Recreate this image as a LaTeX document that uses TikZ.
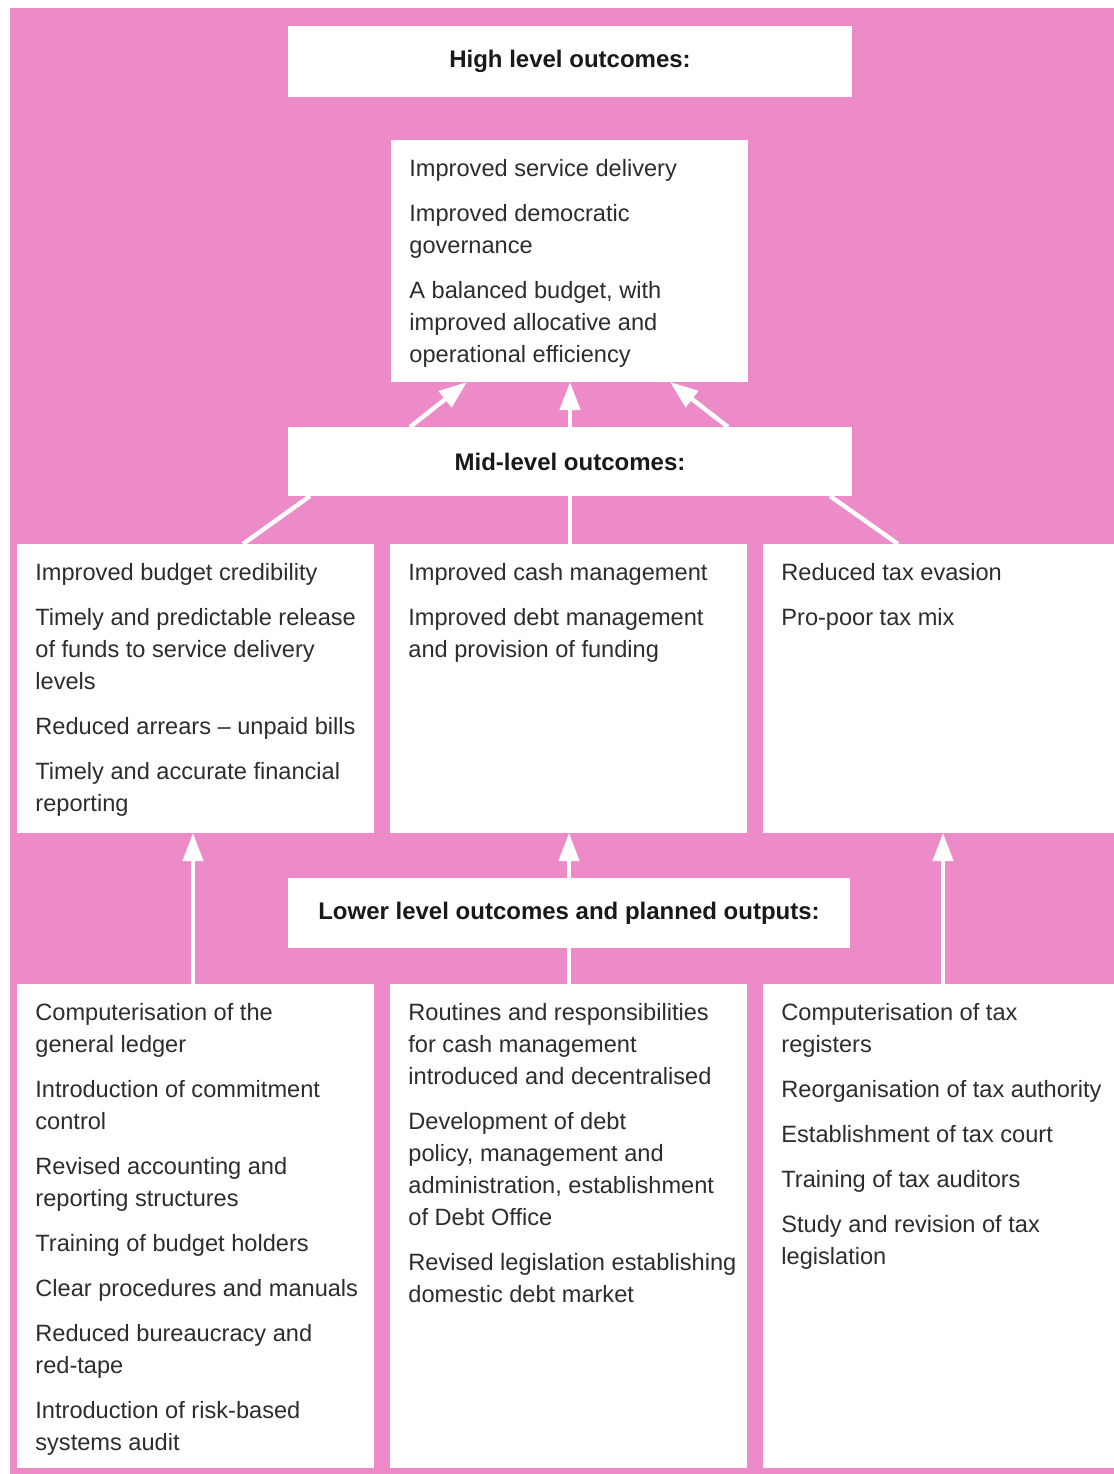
\documentclass[tikz,border=0pt]{standalone}
\usepackage{fontspec}
\setmainfont{Liberation Sans}
\usetikzlibrary{arrows.meta}

\definecolor{pinkbg}{RGB}{237,138,200}
\definecolor{inkgray}{RGB}{45,45,45}

\tikzset{
  header/.style={fill=white, inner sep=0pt, outer sep=0pt, font=\bfseries\fontsize{12}{15}\selectfont, text=black!90},
  panel/.style={fill=white, inner sep=0pt, outer sep=0pt, minimum width=178.5pt},
  item/.style={anchor=north west, inner sep=0pt, align=left, text=inkgray, font=\fontsize{11.8}{16}\selectfont},
  up/.style={draw=white, line width=2.2pt, -{Triangle[length=14pt,width=10pt]}},
  link/.style={draw=white, line width=2.2pt}
}

\begin{document}
\begin{tikzpicture}[x=0.5pt, y=-0.5pt]

% Page and background
\useasboundingbox (0,0) rectangle (1114,1474);
\fill[pinkbg] (10,8) rectangle (1114,1474);

% Headers
\node[header, minimum width=282pt, minimum height=35.5pt] (high) at (570,61.5) {High level outcomes:};
\node[header, minimum width=282pt, minimum height=34.5pt] (mid) at (570,461.5) {Mid-level outcomes:};
\node[header, minimum width=281pt, minimum height=35pt] (low) at (569,913) {Lower level outcomes and planned outputs:};

% High level box
\node[panel, minimum height=121pt] (top) at (569.5,261) {};
\node[item] (top-txt) at ([shift={(18,19)}]top.north west) {Improved service delivery\\[6.5pt]
  Improved democratic\\governance\\[6.5pt]
  A balanced budget, with\\improved allocative and\\operational efficiency};

% Mid level boxes
\node[panel, minimum height=144.5pt] (m1) at (195.5,688.5) {};
\node[panel, minimum height=144.5pt] (m2) at (568.5,688.5) {};
\node[panel, minimum height=144.5pt, minimum width=175.5pt] (m3) at (938.5,688.5) {};

\node[item] (m1-txt) at ([shift={(18,19)}]m1.north west) {Improved budget credibility\\[6.5pt]
  Timely and predictable release\\of funds to service delivery\\levels\\[6.5pt]
  Reduced arrears -- unpaid bills\\[6.5pt]
  Timely and accurate financial\\reporting};
\node[item] (m2-txt) at ([shift={(18,19)}]m2.north west) {Improved cash management\\[6.5pt]
  Improved debt management\\and provision of funding};
\node[item] (m3-txt) at ([shift={(18,19)}]m3.north west) {Reduced tax evasion\\[6.5pt]
  Pro-poor tax mix};

% Lower level boxes
\node[panel, minimum height=242pt] (l1) at (195.5,1226) {};
\node[panel, minimum height=242pt] (l2) at (568.5,1226) {};
\node[panel, minimum height=242pt, minimum width=175.5pt] (l3) at (938.5,1226) {};

\node[item] (l1-txt) at ([shift={(18,19)}]l1.north west) {Computerisation of the\\general ledger\\[6.5pt]
  Introduction of commitment\\control\\[6.5pt]
  Revised accounting and\\reporting structures\\[6.5pt]
  Training of budget holders\\[6.5pt]
  Clear procedures and manuals\\[6.5pt]
  Reduced bureaucracy and\\red-tape\\[6.5pt]
  Introduction of risk-based\\systems audit};
\node[item] (l2-txt) at ([shift={(18,19)}]l2.north west) {Routines and responsibilities\\for cash management\\introduced and decentralised\\[6.5pt]
  Development of debt\\policy, management and\\administration, establishment\\of Debt Office\\[6.5pt]
  Revised legislation establishing\\domestic debt market};
\node[item] (l3-txt) at ([shift={(18,19)}]l3.north west) {Computerisation of tax\\registers\\[6.5pt]
  Reorganisation of tax authority\\[6.5pt]
  Establishment of tax court\\[6.5pt]
  Training of tax auditors\\[6.5pt]
  Study and revision of tax\\legislation};

% Mid header to high level box
\draw[up] ([xshift=61pt]mid.north west) -- ([xshift=38pt]top.south west);
\draw[up] (mid.north) -- (mid.north |- top.south);
\draw[up] ([xshift=-62pt]mid.north east) -- ([xshift=-39pt]top.south east);

% Mid header to mid boxes
\draw[link] ([xshift=11pt]mid.south west) -- ([xshift=23.75pt]m1.north);
\draw[link] (mid.south) -- (mid.south |- m2.north);
\draw[link] ([xshift=-11pt]mid.south east) -- ([xshift=67.5pt]m3.north west);

% Lower boxes to mid boxes
\draw[up] ([xshift=-1.25pt]l1.north) -- ([xshift=-1.25pt]l1.north |- m1.south);
\draw[up] (low.north) -- (low.north |- m2.south);
\draw[link] (low.south) -- (low.south |- l2.north);
\draw[up] ([xshift=2.25pt]l3.north) -- ([xshift=2.25pt]l3.north |- m3.south);

\end{tikzpicture}
\end{document}
